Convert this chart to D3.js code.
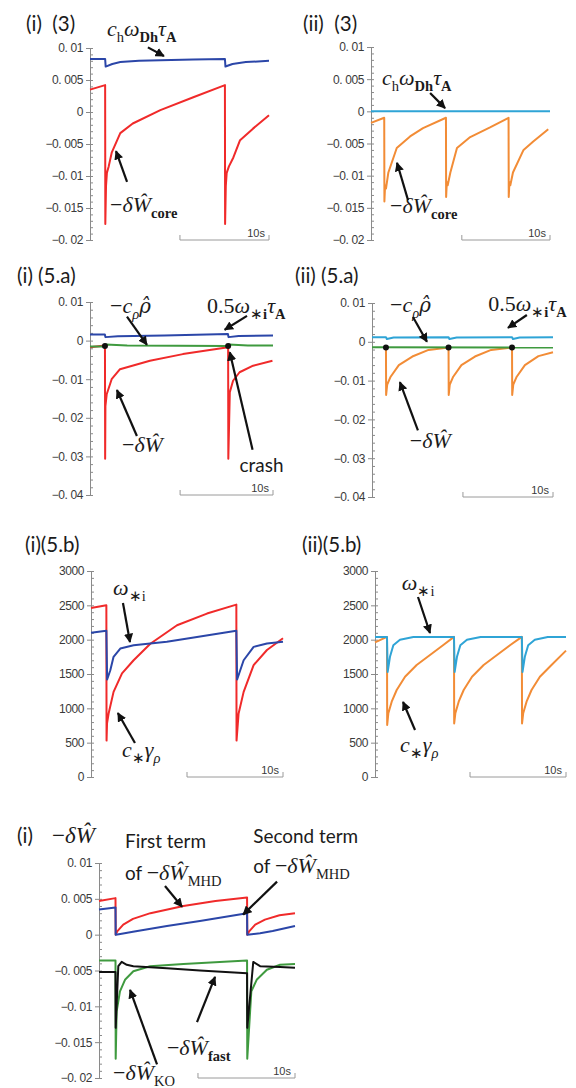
<!DOCTYPE html>
<html>
<head>
<meta charset="utf-8">
<script src="https://cdn.jsdelivr.net/npm/d3@7"></script>
<style>
  body { margin: 0; background: #fff; }
</style>
</head>
<body>
<div id="chart"></div>
<script>
// ---- data (time in s) ----

// (i)(3)
const i3BlueT = [0, 1.7, 1.76, 2.5, 3.4, 5.5, 7.9, 11.6, 15.15, 15.21, 16, 17.5, 20.1];
const i3BlueV = [0.0083, 0.0083, 0.0071, 0.0075, 0.0078, 0.008, 0.0081, 0.0082, 0.0083, 0.0071, 0.0075, 0.0078, 0.008];
const i3RedT = [0, 1.7, 1.72, 1.8, 1.9, 2.1, 2.45, 3.4, 4.8, 7.9, 11.6, 15.15, 15.17, 15.25, 15.35, 15.6, 16.1, 16.85, 18.3, 20.1];
const i3RedV = [0.0035, 0.0042, -0.0175, -0.0115, -0.0095, -0.0085, -0.0063, -0.0033, -0.0018, 0.0003, 0.0023, 0.0042, -0.0175, -0.0115, -0.0095, -0.0085, -0.0071, -0.0044, -0.0026, -0.0005];

// (ii)(3)
const ii3BlueT = [0, 20.3];
const ii3BlueV = [0, 0];
const ii3OrangeT = [0, 1.5, 1.52, 1.6, 1.7, 1.97, 2.92, 4.43, 5.9, 8.5, 8.52, 8.6, 8.7, 9.0, 9.75, 11.25, 13.5, 15.6, 15.62, 15.7, 15.8, 16.1, 17.3, 18.4, 20.1];
const ii3OrangeV = [-0.0018, -0.001, -0.014, -0.0115, -0.012, -0.0095, -0.0057, -0.0039, -0.0026, -0.001, -0.0133, -0.011, -0.0115, -0.0095, -0.0057, -0.004, -0.0025, -0.001, -0.0133, -0.011, -0.0115, -0.0095, -0.006, -0.0047, -0.0028];

// (i)(5.a)
const i5aBlueT = [0, 1.6, 1.66, 3, 8, 14.85, 14.91, 16, 19.7];
const i5aBlueV = [0.0016, 0.0016, 0.0009, 0.0011, 0.0013, 0.0017, 0.0009, 0.0012, 0.0013];
const i5aGreenT = [0, 1.6, 1.7, 4, 14.85, 14.95, 17, 19.7];
const i5aGreenV = [-0.0015, -0.0015, -0.001, -0.0013, -0.0014, -0.001, -0.0013, -0.0013];
const i5aRedT = [0, 1.61, 1.63, 1.66, 1.8, 2.33, 3.23, 6.45, 10, 14.87, 14.89, 15.05, 15.4, 16.1, 17.56, 19.64];
const i5aRedV = [-0.0017, -0.0013, -0.0306, -0.017, -0.0139, -0.01, -0.0074, -0.0052, -0.0035, -0.0017, -0.0306, -0.0134, -0.0104, -0.0082, -0.0065, -0.0052];
const i5aCrashT = [1.61, 14.87];
const i5aCrashV = [-0.0014, -0.0014];

// (ii)(5.a)
const ii5aBlueT = [0, 1.55, 1.65, 2.4, 8.5, 8.6, 9.4, 15.55, 15.65, 16.4, 20.1];
const ii5aBlueV = [0.0012, 0.0012, 0.0007, 0.0011, 0.0012, 0.0007, 0.0011, 0.0012, 0.0007, 0.0011, 0.0012];
const ii5aGreenT = [0, 20.1];
const ii5aGreenV = [-0.0014, -0.0015];
const ii5aOrangeT = [1.55, 1.57, 1.69, 2.07, 2.98, 4.48, 6.28, 8.5, 8.52, 8.64, 9.02, 9.93, 11.43, 13.23, 15.55, 15.57, 15.69, 16.07, 16.98, 18.48, 20.1];
const ii5aOrangeV = [-0.0015, -0.0137, -0.011, -0.009, -0.006, -0.0038, -0.0021, -0.0015, -0.0137, -0.011, -0.009, -0.006, -0.0038, -0.0021, -0.0015, -0.0137, -0.011, -0.009, -0.006, -0.0037, -0.0027];
const ii5aCrashT = [1.55, 8.5, 15.55];
const ii5aCrashV = [-0.0015, -0.0015, -0.0015];

// (i)(5.b)
const i5bRedT = [0, 1.6, 1.62, 1.67, 1.83, 2.35, 3.23, 4.44, 6.18, 8.96, 12.08, 15.14, 15.16, 15.37, 15.9, 16.94, 18.33, 20];
const i5bRedV = [2460, 2500, 530, 780, 920, 1240, 1510, 1700, 1940, 2210, 2380, 2510, 530, 920, 1240, 1630, 1850, 2020];
const i5bBlueT = [0, 1.6, 1.68, 2.01, 2.35, 3.05, 4.44, 7.9, 11.04, 15.14, 15.22, 15.9, 16.94, 18.33, 20];
const i5bBlueV = [2100, 2130, 1420, 1555, 1750, 1870, 1920, 1970, 2040, 2130, 1420, 1700, 1895, 1945, 1970];

// (ii)(5.b)
const ii5bBlueT = [0, 1.25, 1.32, 1.56, 1.91, 2.6, 4, 8.23, 8.3, 8.54, 8.89, 9.58, 11, 15.3, 15.37, 15.61, 15.96, 16.65, 18, 19.9];
const ii5bBlueV = [2040, 2040, 1530, 1750, 1920, 2000, 2040, 2040, 1530, 1750, 1920, 2000, 2040, 2040, 1530, 1750, 1920, 2000, 2040, 2040];
const ii5bOrangeT = [0, 1.25, 1.27, 1.39, 1.74, 2.26, 3.13, 4.34, 5.73, 7.12, 8.23, 8.25, 8.37, 8.72, 9.24, 10.11, 11.32, 12.71, 14.1, 15.3, 15.32, 15.44, 15.79, 16.31, 17.18, 18.39, 19.9];
const ii5bOrangeV = [1960, 2040, 757, 927, 1097, 1267, 1461, 1631, 1777, 1922, 2040, 780, 927, 1097, 1267, 1461, 1631, 1777, 1922, 2040, 780, 927, 1097, 1267, 1461, 1631, 1840];

// (i) -dW terms
const btmRedT = [0, 1.7, 1.72, 1.9, 2.5, 3.5, 5.3, 8.7, 12, 15.26, 15.28, 15.5, 16.1, 17.1, 18.6, 20.2];
const btmRedV = [0.0047, 0.0051, 0, 0.0005, 0.0014, 0.0022, 0.003, 0.004, 0.0047, 0.0052, 0, 0.0005, 0.0014, 0.0021, 0.0027, 0.003];
const btmBlueT = [0, 1.7, 1.72, 2.2, 3.5, 7, 10.4, 15.26, 15.28, 16.6, 17.9, 20.2];
const btmBlueV = [0.0035, 0.0038, 0, 0.0001, 0.0004, 0.0012, 0.0019, 0.003, 0, 0.0002, 0.0005, 0.0012];
const btmGreenT = [0, 1.7, 1.72, 1.82, 2.16, 2.68, 3.54, 5.26, 8.7, 15.26, 15.28, 15.7, 16.25, 17.3, 18.66, 20.2];
const btmGreenV = [-0.0036, -0.0036, -0.0173, -0.0107, -0.0079, -0.0063, -0.0051, -0.0044, -0.0041, -0.0036, -0.0173, -0.0079, -0.0063, -0.0049, -0.0042, -0.0041];
const btmBlackT = [0, 1.7, 1.72, 1.99, 2.34, 2.86, 3.54, 7, 10.4, 15.26, 15.28, 15.9, 16.6, 18.66, 20.2];
const btmBlackV = [-0.0052, -0.0052, -0.013, -0.0044, -0.0038, -0.0042, -0.0044, -0.0047, -0.005, -0.0054, -0.013, -0.0038, -0.0044, -0.0045, -0.0046];

// tick values and labels
const dwTicks3 = [0.01, 0.005, 0, -0.005, -0.01, -0.015, -0.02];
const dwLabels3 = ["0. 01", "0. 005", "0", "\u22120. 005", "\u22120. 01", "\u22120. 015", "\u22120. 02"];
const dwTicks5a = [0.01, 0, -0.01, -0.02, -0.03, -0.04];
const dwLabels5a = ["0. 01", "0", "\u22120. 01", "\u22120. 02", "\u22120. 03", "\u22120. 04"];
const freqTicks = [3000, 2500, 2000, 1500, 1000, 500, 0];
const freqLabels = ["3000", "2500", "2000", "1500", "1000", "500", "0"];

// colours
const RED = "#f02a2a", BLUE = "#2b46a8", LBLUE = "#2fa4d6", ORANGE = "#f28c36", GREEN = "#3f9a3f", BLACK = "#111";

// math label pieces: i = italic, r = roman, s = sub, sb = sub bold, si = sub italic, ih = italic with combining hat, sans = sans text
const cwt = [["c", "i"], ["h", "s"], ["\u03c9", "i"], ["Dh", "sb"], ["\u03c4", "i"], ["A", "sb"]];
const dWcore = [["\u2212", "r"], ["\u03b4", "i"], ["\u0174", "i"], ["core", "sb"]];
const dW = [["\u2212", "r"], ["\u03b4", "i"], ["\u0174", "i"]];
const crho = [["\u2212", "r"], ["c", "i"], ["\u03c1", "si"], ["\u03c1\u0302", "ih"]];
const halfOmega = [["0.5", "r"], ["\u03c9", "i"], ["\u2217", "s"], ["i", "sb"], ["\u03c4", "i"], ["A", "sb"]];
const omegaI = [["\u03c9", "i"], ["\u2217", "s"], ["i", "s"]];
const cGamma = [["c", "i"], ["\u2217", "s"], ["\u03b3", "i"], ["\u03c1", "si"]];
const ofMHD = [["of ", "sans"], ["\u2212", "r"], ["\u03b4", "i"], ["\u0174", "i"], ["MHD", "s"]];
const dWfast = [["\u2212", "r"], ["\u03b4", "i"], ["\u0174", "i"], ["fast", "sb"]];
const dWKO = [["\u2212", "r"], ["\u03b4", "i"], ["\u0174", "i"], ["KO", "s"]];

const zip = (t, v) => t.map((d, i) => ({ t: d, v: v[i] }));

const panels = [
  { title: "(i)  (3)", tx: 26, ty: 31, x0: 90, x1: 269, tMax: 20.1, yTop: 48, yBot: 240,
    dom: [-0.02, 0.01], ticks: dwTicks3, labels: dwLabels3, minor: 0.001,
    series: [[i3RedT, i3RedV, RED], [i3BlueT, i3BlueV, BLUE]],
    notes: [[1.9, 0.0119, cwt], [2.25, -0.0156, dWcore]],
    arrows: [[6.5, 0.0101, 8.3, 0.00875], [4.16, -0.0109, 2.92, -0.0061]] },
  { title: "(ii)  (3)", tx: 303, ty: 31, x0: 371, x1: 550, tMax: 20.3, yTop: 47, yBot: 240,
    dom: [-0.02, 0.01], ticks: dwTicks3, labels: dwLabels3, minor: 0.001,
    series: [[ii3BlueT, ii3BlueV, LBLUE], [ii3OrangeT, ii3OrangeV, ORANGE]],
    notes: [[1.25, 0.0041, cwt], [2.16, -0.0158, dWcore]],
    arrows: [[6.7, 0.00285, 8.4, 0.0005], [4.2, -0.0138, 2.95, -0.008]] },
  { title: "(i) (5.a)", tx: 17, ty: 283, x0: 90, x1: 273, tMax: 19.7, yTop: 302, yBot: 495,
    dom: [-0.04, 0.01], ticks: dwTicks5a, labels: dwLabels5a, minor: 0.002,
    series: [[i5aBlueT, i5aBlueV, BLUE], [i5aRedT, i5aRedV, RED], [i5aGreenT, i5aGreenV, GREEN]],
    dots: [i5aCrashT, i5aCrashV],
    notes: [[2.15, 0.0072, crho], [12.6, 0.0072, halfOmega], [3.44, -0.0289, dW], [16.1, -0.034, [["crash", "sans"]]]],
    arrows: [[3.98, 0.0062, 6.13, -0.0011], [16.9, 0.0064, 14.5, 0.0028], [5.05, -0.0247, 2.9, -0.0128], [17.5, -0.0283, 15.05, -0.003]] },
  { title: "(ii) (5.a)", tx: 295, ty: 283, x0: 372, x1: 553, tMax: 20.1, yTop: 303, yBot: 497,
    dom: [-0.04, 0.01], ticks: dwTicks5a, labels: dwLabels5a, minor: 0.002,
    series: [[ii5aBlueT, ii5aBlueV, LBLUE], [ii5aOrangeT, ii5aOrangeV, ORANGE], [ii5aGreenT, ii5aGreenV, GREEN]],
    dots: [ii5aCrashT, ii5aCrashV],
    notes: [[2.0, 0.0077, crho], [12.9, 0.0079, halfOmega], [4.2, -0.0274, dW]],
    arrows: [[4.55, 0.0064, 6.1, 0], [17.2, 0.0069, 15.1, 0.0036], [5.1, -0.0228, 3.1, -0.0104]] },
  { title: "(i)(5.b)", tx: 25, ty: 552, x0: 91, x1: 283, tMax: 20, yTop: 571, yBot: 777,
    dom: [0, 3000], ticks: freqTicks, labels: freqLabels, minor: 100,
    series: [[i5bRedT, i5bRedV, RED], [i5bBlueT, i5bBlueV, BLUE]],
    notes: [[2.3, 2650, omegaI], [3.23, 292, cGamma]],
    arrows: [[3.33, 2534, 4.06, 1966], [4.58, 495, 2.8, 932]] },
  { title: "(ii)(5.b)", tx: 302, ty: 552, x0: 375, x1: 566, tMax: 19.9, yTop: 571, yBot: 777,
    dom: [0, 3000], ticks: freqTicks, labels: freqLabels, minor: 100,
    series: [[ii5bOrangeT, ii5bOrangeV, ORANGE], [ii5bBlueT, ii5bBlueV, LBLUE]],
    notes: [[2.8, 2723, omegaI], [2.6, 365, cGamma]],
    arrows: [[4.48, 2621, 5.73, 2097], [4.17, 685, 2.92, 1093]] },
  { title: "(i)", tx: 17, ty: 843, x0: 99, x1: 295, tMax: 20.2, yTop: 863, yBot: 1078,
    dom: [-0.02, 0.01], ticks: dwTicks3, labels: dwLabels3, minor: 0.001,
    series: [[btmRedT, btmRedV, RED], [btmBlueT, btmBlueV, BLUE], [btmGreenT, btmGreenV, GREEN], [btmBlackT, btmBlackV, BLACK]],
    notes: [[2.68, 0.0121, [["First term", "sans"]]], [2.68, 0.0076, ofMHD], [15.9, 0.0128, [["Second term", "sans"]]],
            [15.9, 0.0086, ofMHD], [7.0, -0.0168, dWfast], [1.44, -0.0203, dWKO]],
    arrows: [[6.8, 0.0068, 8.56, 0.0039], [18.35, 0.0074, 14.85, 0.0028], [10.1, -0.0122, 11.96, -0.0059], [5.98, -0.0181, 3.2, -0.0077]] }
];

const svg = d3.select("#chart").append("svg")
  .attr("width", 576)
  .attr("height", 1088)
  .style("background", "#fff");

svg.append("defs").append("marker")
  .attr("id", "head")
  .attr("viewBox", "0 0 10 10")
  .attr("refX", 9).attr("refY", 5)
  .attr("markerWidth", 4.2).attr("markerHeight", 4.2)
  .attr("orient", "auto")
  .append("path").attr("d", "M0,0 L10,5 L0,10 z").attr("fill", "#111");

function mathLabel(g, x, y, parts, size) {
  const txt = g.append("text")
    .attr("x", x).attr("y", y)
    .attr("font-family", "'Liberation Serif', serif")
    .attr("font-size", size)
    .attr("fill", "#1b1b1b")
    .style("white-space", "pre");
  let shift = 0;
  parts.forEach(([s, k]) => {
    const sub = k[0] === "s" && k !== "sans";
    const want = sub ? size * 0.27 : 0;
    const ts = txt.append("tspan")
      .attr("dy", want - shift)
      .attr("font-size", k === "sans" ? size * 0.86 : (sub ? size * 0.66 : size))
      .attr("font-style", (k === "i" || k === "si" || k === "ih") ? "italic" : "normal")
      .attr("font-weight", k === "sb" ? "bold" : "normal")
      .text(s);
    if (k === "sans") ts.attr("font-family", "Lato, 'Open Sans', sans-serif");
    if (k === "ih") ts.attr("font-family", "'DejaVu Serif', serif").attr("font-size", size * 0.9);
    shift = want;
  });
}

panels.forEach(p => {
  const g = svg.append("g");
  const x = d3.scaleLinear().domain([0, p.tMax]).range([p.x0, p.x1]);
  const y = d3.scaleLinear().domain(p.dom).range([p.yBot, p.yTop]);

  // title
  g.append("text")
    .attr("x", p.tx).attr("y", p.ty)
    .attr("font-family", "Lato, 'Open Sans', sans-serif")
    .attr("font-size", 20.5)
    .attr("fill", "#1b1b1b")
    .style("white-space", "pre")
    .text(p.title);

  // minor ticks (inside) and major ticks with labels
  const minorVals = d3.range(p.dom[0], p.dom[1] + p.minor / 2, p.minor);
  g.append("g")
    .attr("transform", `translate(${p.x0},0)`)
    .call(d3.axisLeft(y).tickValues(minorVals).tickSize(-3).tickSizeOuter(0).tickFormat(""))
    .call(a => a.selectAll("line,path").attr("stroke", "#8a8a8a"));
  g.append("g")
    .attr("transform", `translate(${p.x0},0)`)
    .call(d3.axisLeft(y).tickValues(p.ticks).tickSize(4).tickSizeOuter(0).tickPadding(3)
      .tickFormat((d, i) => p.labels[i]))
    .call(a => a.selectAll("line,path").attr("stroke", "#8a8a8a"))
    .call(a => a.selectAll("text")
      .attr("font-family", "'Liberation Sans', Arial, sans-serif")
      .attr("font-size", 12)
      .attr("letter-spacing", "-0.4px")
      .attr("fill", "#3a3a3a"));

  // 10 s scale bar
  const sb = g.append("g").attr("stroke", "#9a9a9a").attr("stroke-width", 1);
  const sx0 = x(p.tMax - 10), sx1 = x(p.tMax);
  sb.append("path").attr("fill", "none")
    .attr("d", `M${sx0},${p.yBot - 5}V${p.yBot}H${sx1}V${p.yBot - 5}`);
  g.append("text")
    .attr("x", sx1 - 4).attr("y", p.yBot - 3)
    .attr("text-anchor", "end")
    .attr("font-family", "'Liberation Sans', Arial, sans-serif")
    .attr("font-size", 11)
    .attr("fill", "#3a3a3a")
    .text("10s");

  // curves
  const line = d3.line().x(d => x(d.t)).y(d => y(d.v));
  p.series.forEach(([t, v, c]) => {
    g.append("path")
      .datum(zip(t, v))
      .attr("fill", "none")
      .attr("stroke", c)
      .attr("stroke-width", 2)
      .attr("stroke-linejoin", "round")
      .attr("d", line);
  });

  if (p.dots) {
    g.selectAll("circle.crash")
      .data(zip(p.dots[0], p.dots[1]))
      .enter().append("circle")
      .attr("class", "crash")
      .attr("cx", d => x(d.t)).attr("cy", d => y(d.v))
      .attr("r", 3).attr("fill", "#111");
  }

  // annotations
  p.notes.forEach(([t, v, parts]) => mathLabel(g, x(t), y(v), parts, 22));
  p.arrows.forEach(([t1, v1, t2, v2]) => {
    g.append("line")
      .attr("x1", x(t1)).attr("y1", y(v1))
      .attr("x2", x(t2)).attr("y2", y(v2))
      .attr("stroke", "#111").attr("stroke-width", 2.2)
      .attr("marker-end", "url(#head)");
  });
});

// bottom panel title formula
mathLabel(svg, 52, 843, dW, 23);
</script>
</body>
</html>
